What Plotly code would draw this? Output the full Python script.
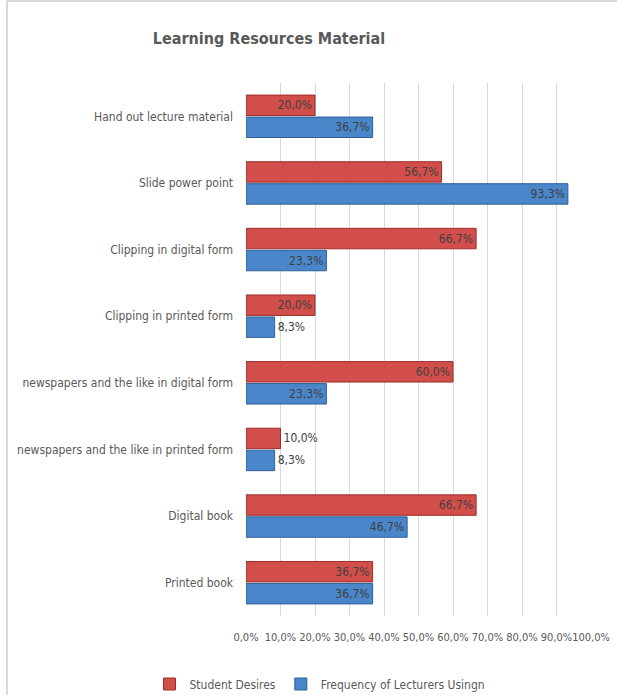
import plotly.graph_objects as go

categories = [
    "Hand out lecture material",
    "Slide power point",
    "Clipping in digital form",
    "Clipping in printed form",
    "newspapers and the like in digital form",
    "newspapers and the like in printed form",
    "Digital book",
    "Printed book",
]
student_desires = [20.0, 56.7, 66.7, 20.0, 60.0, 10.0, 66.7, 36.7]
lecturers_using = [36.7, 93.3, 23.3, 8.3, 23.3, 8.3, 46.7, 36.7]
x_ticks = [0, 10, 20, 30, 40, 50, 60, 70, 80, 90, 100]
x_tick_labels = ["0,0%", "10,0%", "20,0%", "30,0%", "40,0%", "50,0%",
                 "60,0%", "70,0%", "80,0%", "90,0%", "100,0%"]

FONT = "Liberation Sans Narrow, DejaVu Sans Condensed, Arial Narrow, sans-serif"
TXT = "#595959"

def positions(vals):
    return ["inside" if v >= 15 else "outside" for v in vals]

fig = go.Figure()
fig.add_trace(go.Bar(
    name="Student Desires", y=categories, x=student_desires, orientation="h",
    marker=dict(color="#D24E4A", line=dict(color="#9C2D2A", width=1)),
    texttemplate="%{x:.1f}%", textposition=positions(student_desires),
    insidetextanchor="end", constraintext="none",
    textfont=dict(family=FONT, size=12, color="#404040"),
    cliponaxis=False,
))
fig.add_trace(go.Bar(
    name="Frequency of Lecturers Usingn", y=categories, x=lecturers_using, orientation="h",
    marker=dict(color="#4A86CA", line=dict(color="#2C5E98", width=1)),
    texttemplate="%{x:.1f}%", textposition=positions(lecturers_using),
    insidetextanchor="end", constraintext="none",
    textfont=dict(family=FONT, size=12, color="#404040"),
    cliponaxis=False,
))

W, H = 617, 695
ml, mr, mt, mb = 246, 26, 83, 79

fig.update_layout(
    width=W, height=H,
    margin=dict(l=ml, r=mr, t=mt, b=mb, autoexpand=False),
    paper_bgcolor="white", plot_bgcolor="white",
    separators=",.",
    barmode="group", bargap=0.34, bargroupgap=0.07,
    font=dict(family=FONT, size=12, color=TXT),
    title=dict(text="<b>Learning Resources Material</b>", x=269 / W, y=1 - 38 / H,
               xanchor="center", yanchor="middle",
               font=dict(family=FONT, size=16, color=TXT)),
    xaxis=dict(range=[0, 100], tickvals=x_ticks, ticktext=x_tick_labels, tickangle=0,
               showgrid=True, gridcolor="#D9D9D9", gridwidth=1, zeroline=False,
               showline=False, ticks="", ticklabelstandoff=13,
               tickfont=dict(family=FONT, size=11, color=TXT)),
    yaxis=dict(autorange="reversed", showgrid=False, showline=False, ticks="",
               ticklabelstandoff=12,
               tickfont=dict(family=FONT, size=12, color=TXT)),
    legend=dict(orientation="h", x=(320 - ml) / (W - ml - mr), y=(H - mb - 684) / (H - mt - mb),
                xanchor="center", yanchor="middle",
                font=dict(family=FONT, size=12, color=TXT)),
    showlegend=True,
)

# chart-frame border (left and top edges)
pw = W - ml - mr
ph = H - mt - mb
fig.add_shape(type="line", xref="paper", yref="paper",
              x0=(7 - ml) / pw, x1=(7 - ml) / pw, y0=(H - mb - H) / ph, y1=(H - mb - 1) / ph,
              line=dict(color="#D9D9D9", width=2))
fig.add_shape(type="line", xref="paper", yref="paper",
              x0=(7 - ml) / pw, x1=(W - ml) / pw, y0=(H - mb - 1) / ph, y1=(H - mb - 1) / ph,
              line=dict(color="#D9D9D9", width=2))

fig.write_html("out.html", config={"displayModeBar": False},
               post_script="document.body.style.margin='0';document.body.style.overflow='hidden';")
